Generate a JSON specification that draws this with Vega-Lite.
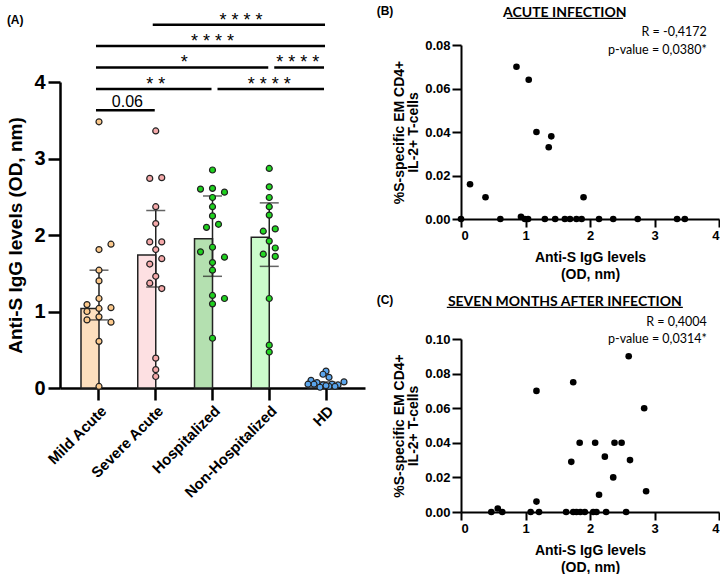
{
  "$schema": "https://vega.github.io/schema/vega-lite/v6.json",
  "background": "white",
  "padding": {"left": 6, "top": 4, "right": 4, "bottom": 0},
  "config": {
    "view": {"stroke": null},
    "font": "Liberation Sans",
    "title": {"font": "Liberation Sans", "fontSize": 12, "fontWeight": "bold", "color": "#000"},
    "axis": {"domainColor": "#000", "tickColor": "#000", "labelColor": "#000", "titleColor": "#000", "grid": false, "labelFont": "Liberation Sans", "titleFont": "Liberation Sans", "labelFontWeight": "bold", "titleFontWeight": "bold"}
  },
  "datasets": {
    "summary": [
      {"group": "Mild Acute", "median": 1.04, "q1": 0.89, "q3": 1.54},
      {"group": "Severe Acute", "median": 1.74, "q1": 1.32, "q3": 2.32},
      {"group": "Hospitalized", "median": 1.95, "q1": 1.46, "q3": 2.51},
      {"group": "Non-Hospitalized", "median": 1.97, "q1": 1.59, "q3": 2.42},
      {"group": "HD", "median": 0.05, "q1": 0.03, "q3": 0.08}
    ],
    "igg": [
      {"group": "Mild Acute", "lane": 0, "value": 3.48},
      {"group": "Mild Acute", "lane": 4, "value": 1.88},
      {"group": "Mild Acute", "lane": 0, "value": 1.81},
      {"group": "Mild Acute", "lane": 0, "value": 1.54},
      {"group": "Mild Acute", "lane": 0, "value": 1.40},
      {"group": "Mild Acute", "lane": 0, "value": 1.17},
      {"group": "Mild Acute", "lane": -4, "value": 1.09},
      {"group": "Mild Acute", "lane": 4, "value": 1.05},
      {"group": "Mild Acute", "lane": 0, "value": 1.04},
      {"group": "Mild Acute", "lane": -4, "value": 1.00},
      {"group": "Mild Acute", "lane": 0, "value": 0.93},
      {"group": "Mild Acute", "lane": -4, "value": 0.89},
      {"group": "Mild Acute", "lane": 4, "value": 0.86},
      {"group": "Mild Acute", "lane": 0, "value": 0.61},
      {"group": "Mild Acute", "lane": 0, "value": 0.02},
      {"group": "Severe Acute", "lane": 0, "value": 3.36},
      {"group": "Severe Acute", "lane": 2, "value": 2.75},
      {"group": "Severe Acute", "lane": -2, "value": 2.74},
      {"group": "Severe Acute", "lane": 0, "value": 2.37},
      {"group": "Severe Acute", "lane": 0, "value": 2.15},
      {"group": "Severe Acute", "lane": -2, "value": 1.91},
      {"group": "Severe Acute", "lane": 2, "value": 1.91},
      {"group": "Severe Acute", "lane": 0, "value": 1.81},
      {"group": "Severe Acute", "lane": 2, "value": 1.69},
      {"group": "Severe Acute", "lane": -2, "value": 1.62},
      {"group": "Severe Acute", "lane": 0, "value": 1.46},
      {"group": "Severe Acute", "lane": -2, "value": 1.37},
      {"group": "Severe Acute", "lane": 2, "value": 1.30},
      {"group": "Severe Acute", "lane": 0, "value": 0.39},
      {"group": "Severe Acute", "lane": 0, "value": 0.24},
      {"group": "Severe Acute", "lane": 0, "value": 0.15},
      {"group": "Hospitalized", "lane": 0, "value": 2.85},
      {"group": "Hospitalized", "lane": -4, "value": 2.60},
      {"group": "Hospitalized", "lane": 0, "value": 2.61},
      {"group": "Hospitalized", "lane": 4, "value": 2.56},
      {"group": "Hospitalized", "lane": 0, "value": 2.49},
      {"group": "Hospitalized", "lane": 0, "value": 2.37},
      {"group": "Hospitalized", "lane": 0, "value": 2.25},
      {"group": "Hospitalized", "lane": 2, "value": 2.14},
      {"group": "Hospitalized", "lane": -2, "value": 2.10},
      {"group": "Hospitalized", "lane": 0, "value": 1.84},
      {"group": "Hospitalized", "lane": -4, "value": 1.78},
      {"group": "Hospitalized", "lane": 4, "value": 1.71},
      {"group": "Hospitalized", "lane": 0, "value": 1.64},
      {"group": "Hospitalized", "lane": 0, "value": 1.54},
      {"group": "Hospitalized", "lane": 0, "value": 1.21},
      {"group": "Hospitalized", "lane": 4, "value": 1.17},
      {"group": "Hospitalized", "lane": 0, "value": 1.10},
      {"group": "Hospitalized", "lane": 0, "value": 0.65},
      {"group": "Non-Hospitalized", "lane": 0, "value": 2.87},
      {"group": "Non-Hospitalized", "lane": 0, "value": 2.63},
      {"group": "Non-Hospitalized", "lane": 0, "value": 2.49},
      {"group": "Non-Hospitalized", "lane": 0, "value": 2.37},
      {"group": "Non-Hospitalized", "lane": 0, "value": 2.26},
      {"group": "Non-Hospitalized", "lane": 2, "value": 2.08},
      {"group": "Non-Hospitalized", "lane": -2, "value": 2.05},
      {"group": "Non-Hospitalized", "lane": 0, "value": 1.92},
      {"group": "Non-Hospitalized", "lane": 2, "value": 1.83},
      {"group": "Non-Hospitalized", "lane": -2, "value": 1.75},
      {"group": "Non-Hospitalized", "lane": 2, "value": 1.72},
      {"group": "Non-Hospitalized", "lane": 0, "value": 1.17},
      {"group": "Non-Hospitalized", "lane": 0, "value": 0.56},
      {"group": "Non-Hospitalized", "lane": 0, "value": 0.47},
      {"group": "HD", "lane": 0, "value": 0.22},
      {"group": "HD", "lane": -1, "value": 0.18},
      {"group": "HD", "lane": 1, "value": 0.14},
      {"group": "HD", "lane": -5, "value": 0.10},
      {"group": "HD", "lane": -3, "value": 0.07},
      {"group": "HD", "lane": -4, "value": 0.05},
      {"group": "HD", "lane": -6, "value": 0.05},
      {"group": "HD", "lane": -1, "value": 0.04},
      {"group": "HD", "lane": -2, "value": 0.01},
      {"group": "HD", "lane": 2, "value": 0.05},
      {"group": "HD", "lane": 4, "value": 0.04},
      {"group": "HD", "lane": 6, "value": 0.08},
      {"group": "HD", "lane": 1, "value": 0.02},
      {"group": "HD", "lane": 3, "value": 0.02},
      {"group": "HD", "lane": 0, "value": 0.03}
    ],
    "sigLines": [
      {"from": "Mild Acute", "to": "Severe Acute", "level": 3.63, "part": "left"},
      {"from": "Mild Acute", "to": "Hospitalized", "level": 3.91, "part": "left"},
      {"from": "Hospitalized", "to": "HD", "level": 3.91, "part": "right"},
      {"from": "Mild Acute", "to": "Non-Hospitalized", "level": 4.19, "part": "left"},
      {"from": "Non-Hospitalized", "to": "HD", "level": 4.19, "part": "right"},
      {"from": "Mild Acute", "to": "HD", "level": 4.47, "part": "left"},
      {"from": "Severe Acute", "to": "HD", "level": 4.75, "part": "left"}
    ],
    "sigText": [
      {"label": "0.06", "at": "Mild Acute", "level": 3.67, "mid": true},
      {"label": "* *", "at": "Severe Acute", "level": 3.91, "mid": false},
      {"label": "* * * *", "at": "Non-Hospitalized", "level": 3.91, "mid": false},
      {"label": "*", "at": "Severe Acute", "level": 4.19, "mid": true},
      {"label": "* * * *", "at": "Non-Hospitalized", "level": 4.19, "mid": true},
      {"label": "* * * *", "at": "Hospitalized", "level": 4.47, "mid": false},
      {"label": "* * * *", "at": "Hospitalized", "level": 4.75, "mid": true}
    ],
    "acute": [
      {"igg": 0.0, "pct": 0.0}, {"igg": 0.14, "pct": 0.016}, {"igg": 0.38, "pct": 0.010},
      {"igg": 0.61, "pct": 0.0}, {"igg": 0.86, "pct": 0.070}, {"igg": 0.93, "pct": 0.001},
      {"igg": 0.99, "pct": 0.0}, {"igg": 1.04, "pct": 0.0}, {"igg": 1.05, "pct": 0.064},
      {"igg": 1.17, "pct": 0.040}, {"igg": 1.30, "pct": 0.0}, {"igg": 1.36, "pct": 0.033},
      {"igg": 1.40, "pct": 0.038}, {"igg": 1.46, "pct": 0.0}, {"igg": 1.61, "pct": 0.0},
      {"igg": 1.69, "pct": 0.0}, {"igg": 1.79, "pct": 0.0}, {"igg": 1.87, "pct": 0.0},
      {"igg": 1.90, "pct": 0.010}, {"igg": 2.14, "pct": 0.0}, {"igg": 2.36, "pct": 0.0},
      {"igg": 2.74, "pct": 0.0}, {"igg": 3.35, "pct": 0.0}, {"igg": 3.47, "pct": 0.0}
    ],
    "seven": [
      {"igg": 0.47, "pct": 0.0}, {"igg": 0.57, "pct": 0.002}, {"igg": 0.64, "pct": 0.0},
      {"igg": 1.08, "pct": 0.0}, {"igg": 1.17, "pct": 0.070}, {"igg": 1.17, "pct": 0.006},
      {"igg": 1.21, "pct": 0.0}, {"igg": 1.63, "pct": 0.0}, {"igg": 1.71, "pct": 0.029},
      {"igg": 1.74, "pct": 0.0}, {"igg": 1.74, "pct": 0.075}, {"igg": 1.79, "pct": 0.0},
      {"igg": 1.84, "pct": 0.040}, {"igg": 1.85, "pct": 0.0}, {"igg": 1.92, "pct": 0.0},
      {"igg": 2.05, "pct": 0.0}, {"igg": 2.08, "pct": 0.040}, {"igg": 2.10, "pct": 0.0},
      {"igg": 2.14, "pct": 0.010}, {"igg": 2.23, "pct": 0.032}, {"igg": 2.25, "pct": 0.0},
      {"igg": 2.36, "pct": 0.020}, {"igg": 2.38, "pct": 0.040}, {"igg": 2.49, "pct": 0.040},
      {"igg": 2.56, "pct": 0.0}, {"igg": 2.60, "pct": 0.090}, {"igg": 2.62, "pct": 0.030},
      {"igg": 2.84, "pct": 0.060}, {"igg": 2.87, "pct": 0.012}
    ],
    "acuteNotes": [
      {"text": "ACUTE INFECTION", "kind": "title", "igg": 1.61, "pct": 0.093},
      {"text": "R = -0,4172", "kind": "stat", "igg": 3.81, "pct": 0.0861},
      {"text": "p-value = 0,0380*", "kind": "stat", "igg": 3.81, "pct": 0.0777}
    ],
    "acuteUnderline": [{"igg": 0.71, "igg2": 2.51, "pct": 0.0922}],
    "sevenNotes": [
      {"text": "SEVEN MONTHS AFTER INFECTION", "kind": "title", "igg": 1.61, "pct": 0.1193},
      {"text": "R = 0,4004", "kind": "stat", "igg": 3.81, "pct": 0.1100},
      {"text": "p-value = 0,0314*", "kind": "stat", "igg": 3.81, "pct": 0.1000}
    ],
    "sevenUnderline": [{"igg": -0.22, "igg2": 3.44, "pct": 0.1183}]
  },
  "hconcat": [
    {
      "vconcat": [
        {
          "width": 305,
          "height": 1,
          "data": {"values": [{}]},
          "mark": {"type": "rule", "opacity": 0},
          "encoding": {}
        },
        {
          "width": 305,
          "height": 306,
          "title": {"text": "(A)", "anchor": "start", "frame": "bounds", "fontSize": 12, "offset": -15},
          "encoding": {
            "x": {
              "field": "group", "type": "nominal",
              "scale": {"domain": ["Mild Acute", "Severe Acute", "Hospitalized", "Non-Hospitalized", "HD"], "paddingInner": 0.366, "paddingOuter": 0.37},
              "axis": {"title": null, "labelAngle": -45, "labelFontSize": 15, "labelPadding": 3, "tickSize": 12, "tickWidth": 2.5, "domainWidth": 2.5}
            }
          },
          "resolve": {"scale": {"fill": "independent"}},
          "layer": [
            {
              "data": {"name": "summary"},
              "mark": {"type": "bar", "stroke": "#222", "strokeWidth": 1.5},
              "encoding": {
                "y": {
                  "field": "median", "type": "quantitative",
                  "scale": {"domain": [0, 4], "nice": false},
                  "axis": {"values": [0, 1, 2, 3, 4], "format": "d", "title": "Anti-S IgG levels  (OD, nm)", "titleFontSize": 19, "titlePadding": 8, "labelFontSize": 20, "labelPadding": 3, "tickSize": 12, "tickWidth": 2.5, "domainWidth": 2.5}
                },
                "fill": {
                  "field": "group", "type": "nominal", "legend": null,
                  "scale": {"domain": ["Mild Acute", "Severe Acute", "Hospitalized", "Non-Hospitalized", "HD"], "range": ["#FDDFBE", "#FDE0E2", "#B4E0B0", "#CCFCCC", "#D6E6F7"]}
                }
              }
            },
            {
              "data": {"name": "summary"},
              "mark": {"type": "rule", "color": "#222", "strokeWidth": 1.5},
              "encoding": {"y": {"field": "q1", "type": "quantitative"}, "y2": {"field": "q3"}}
            },
            {
              "data": {"name": "summary"},
              "mark": {"type": "tick", "orient": "horizontal", "color": "#222", "size": 19, "thickness": 1.5},
              "encoding": {"y": {"field": "q1", "type": "quantitative"}}
            },
            {
              "data": {"name": "summary"},
              "mark": {"type": "tick", "orient": "horizontal", "color": "#222", "size": 19, "thickness": 1.5},
              "encoding": {"y": {"field": "q3", "type": "quantitative"}}
            },
            {
              "mark": {"type": "rule", "color": "#111", "strokeWidth": 2.5, "strokeDash": [7, 5]},
              "encoding": {"y": {"datum": 0.23}}
            },
            {
              "data": {"name": "igg"},
              "mark": {"type": "circle", "size": 36, "stroke": "#222", "strokeWidth": 1.2, "opacity": 1},
              "encoding": {
                "y": {"field": "value", "type": "quantitative"},
                "xOffset": {"field": "lane", "type": "nominal", "scale": {"type": "point", "padding": 0, "domain": [-6, -5, -4, -3, -2, -1, 0, 1, 2, 3, 4, 5, 6]}},
                "fill": {
                  "field": "group", "type": "nominal", "legend": null,
                  "scale": {"domain": ["Mild Acute", "Severe Acute", "Hospitalized", "Non-Hospitalized", "HD"], "range": ["#FCC98C", "#F5A9AA", "#1ED21E", "#22D822", "#5AA5EC"]}
                }
              }
            },
            {
              "data": {"name": "sigLines"},
              "transform": [{"filter": "datum.part === 'left'"}],
              "mark": {"type": "rule", "color": "#000", "strokeWidth": 2.5, "xOffset": -3, "x2Offset": -1},
              "encoding": {"x": {"field": "from", "type": "nominal"}, "x2": {"field": "to"}, "y": {"field": "level", "type": "quantitative"}}
            },
            {
              "data": {"name": "sigLines"},
              "transform": [{"filter": "datum.part === 'right'"}],
              "mark": {"type": "rule", "color": "#000", "strokeWidth": 2.5, "xOffset": 5, "x2Offset": -2},
              "encoding": {"x": {"field": "from", "type": "nominal"}, "x2": {"field": "to"}, "y": {"field": "level", "type": "quantitative"}}
            },
            {
              "data": {"name": "sigText"},
              "transform": [{"filter": "!datum.mid && datum.label !== '0.06'"}],
              "mark": {"type": "text", "fontSize": 18, "baseline": "alphabetic", "align": "center", "color": "#000", "dy": 1},
              "encoding": {"x": {"field": "at", "type": "nominal"}, "y": {"field": "level", "type": "quantitative"}, "text": {"field": "label"}}
            },
            {
              "data": {"name": "sigText"},
              "transform": [{"filter": "datum.mid && datum.label !== '0.06'"}],
              "mark": {"type": "text", "fontSize": 18, "baseline": "alphabetic", "align": "center", "dx": 28.4, "dy": 1, "color": "#000"},
              "encoding": {"x": {"field": "at", "type": "nominal"}, "y": {"field": "level", "type": "quantitative"}, "text": {"field": "label"}}
            },
            {
              "data": {"name": "sigText"},
              "transform": [{"filter": "datum.label === '0.06'"}],
              "mark": {"type": "text", "fontSize": 16, "baseline": "alphabetic", "align": "center", "dx": 28.4, "color": "#000"},
              "encoding": {"x": {"field": "at", "type": "nominal"}, "y": {"field": "level", "type": "quantitative"}, "text": {"field": "label"}}
            }
          ]
        }
      ],
      "spacing": -35
    },
    {
      "vconcat": [
        {
          "width": 258,
          "height": 174,
          "title": {"text": "(B)", "anchor": "start", "frame": "bounds", "fontSize": 12, "offset": -12, "dx": -16},
          "encoding": {
            "x": {"field": "igg", "type": "quantitative", "scale": {"domain": [0, 4], "nice": false},
              "axis": {"values": [0, 1, 2, 3, 4], "title": ["Anti-S IgG levels", "(OD, nm)"], "titleFontSize": 14, "titleLineHeight": 17, "labelFontSize": 13, "tickSize": 8, "tickWidth": 2, "domainWidth": 2, "labelPadding": 2, "titlePadding": 8}},
            "y": {"field": "pct", "type": "quantitative", "scale": {"domain": [0, 0.08], "nice": false},
              "axis": {"values": [0, 0.02, 0.04, 0.06, 0.08], "format": ".2f", "title": ["%S-specific EM CD4+", "IL-2+ T-cells"], "titleFontSize": 14, "titleLineHeight": 14, "labelFontSize": 13, "tickSize": 9, "tickWidth": 2, "domainWidth": 2, "labelPadding": 2, "titlePadding": 4}}
          },
          "layer": [
            {"data": {"name": "acute"}, "mark": {"type": "circle", "size": 44, "color": "#000", "opacity": 1}},
            {"data": {"name": "acuteNotes"}, "transform": [{"filter": "datum.kind === 'title'"}], "mark": {"type": "text", "font": "Lato", "fontWeight": "bold", "fontSize": 14, "align": "center", "baseline": "alphabetic", "color": "#000"}, "encoding": {"text": {"field": "text"}}},
            {"data": {"name": "acuteNotes"}, "transform": [{"filter": "datum.kind === 'stat'"}], "mark": {"type": "text", "font": "Lato", "fontSize": 12.5, "align": "right", "baseline": "middle", "color": "#000"}, "encoding": {"text": {"field": "text"}}},
            {"data": {"name": "acuteUnderline"}, "mark": {"type": "rule", "color": "#000", "strokeWidth": 1.3}, "encoding": {"x2": {"field": "igg2"}}}
          ]
        },
        {
          "width": 258,
          "height": 173,
          "title": {"text": "(C)", "anchor": "start", "frame": "bounds", "fontSize": 12, "offset": -12, "dx": -16},
          "encoding": {
            "x": {"field": "igg", "type": "quantitative", "scale": {"domain": [0, 4], "nice": false},
              "axis": {"values": [0, 1, 2, 3, 4], "title": ["Anti-S IgG levels", "(OD, nm)"], "titleFontSize": 14, "titleLineHeight": 17, "labelFontSize": 13, "tickSize": 8, "tickWidth": 2, "domainWidth": 2, "labelPadding": 2, "titlePadding": 8}},
            "y": {"field": "pct", "type": "quantitative", "scale": {"domain": [0, 0.1], "nice": false},
              "axis": {"values": [0, 0.02, 0.04, 0.06, 0.08, 0.1], "format": ".2f", "title": ["%S-specific EM CD4+", "IL-2+ T-cells"], "titleFontSize": 14, "titleLineHeight": 14, "labelFontSize": 13, "tickSize": 9, "tickWidth": 2, "domainWidth": 2, "labelPadding": 2, "titlePadding": 4}}
          },
          "layer": [
            {"data": {"name": "seven"}, "mark": {"type": "circle", "size": 44, "color": "#000", "opacity": 1}},
            {"data": {"name": "sevenNotes"}, "transform": [{"filter": "datum.kind === 'title'"}], "mark": {"type": "text", "font": "Lato", "fontWeight": "bold", "fontSize": 14, "align": "center", "baseline": "alphabetic", "color": "#000"}, "encoding": {"text": {"field": "text"}}},
            {"data": {"name": "sevenNotes"}, "transform": [{"filter": "datum.kind === 'stat'"}], "mark": {"type": "text", "font": "Lato", "fontSize": 12.5, "align": "right", "baseline": "middle", "color": "#000"}, "encoding": {"text": {"field": "text"}}},
            {"data": {"name": "sevenUnderline"}, "mark": {"type": "rule", "color": "#000", "strokeWidth": 1.3}, "encoding": {"x2": {"field": "igg2"}}}
          ]
        }
      ],
      "spacing": 12
    }
  ],
  "spacing": 11
}
